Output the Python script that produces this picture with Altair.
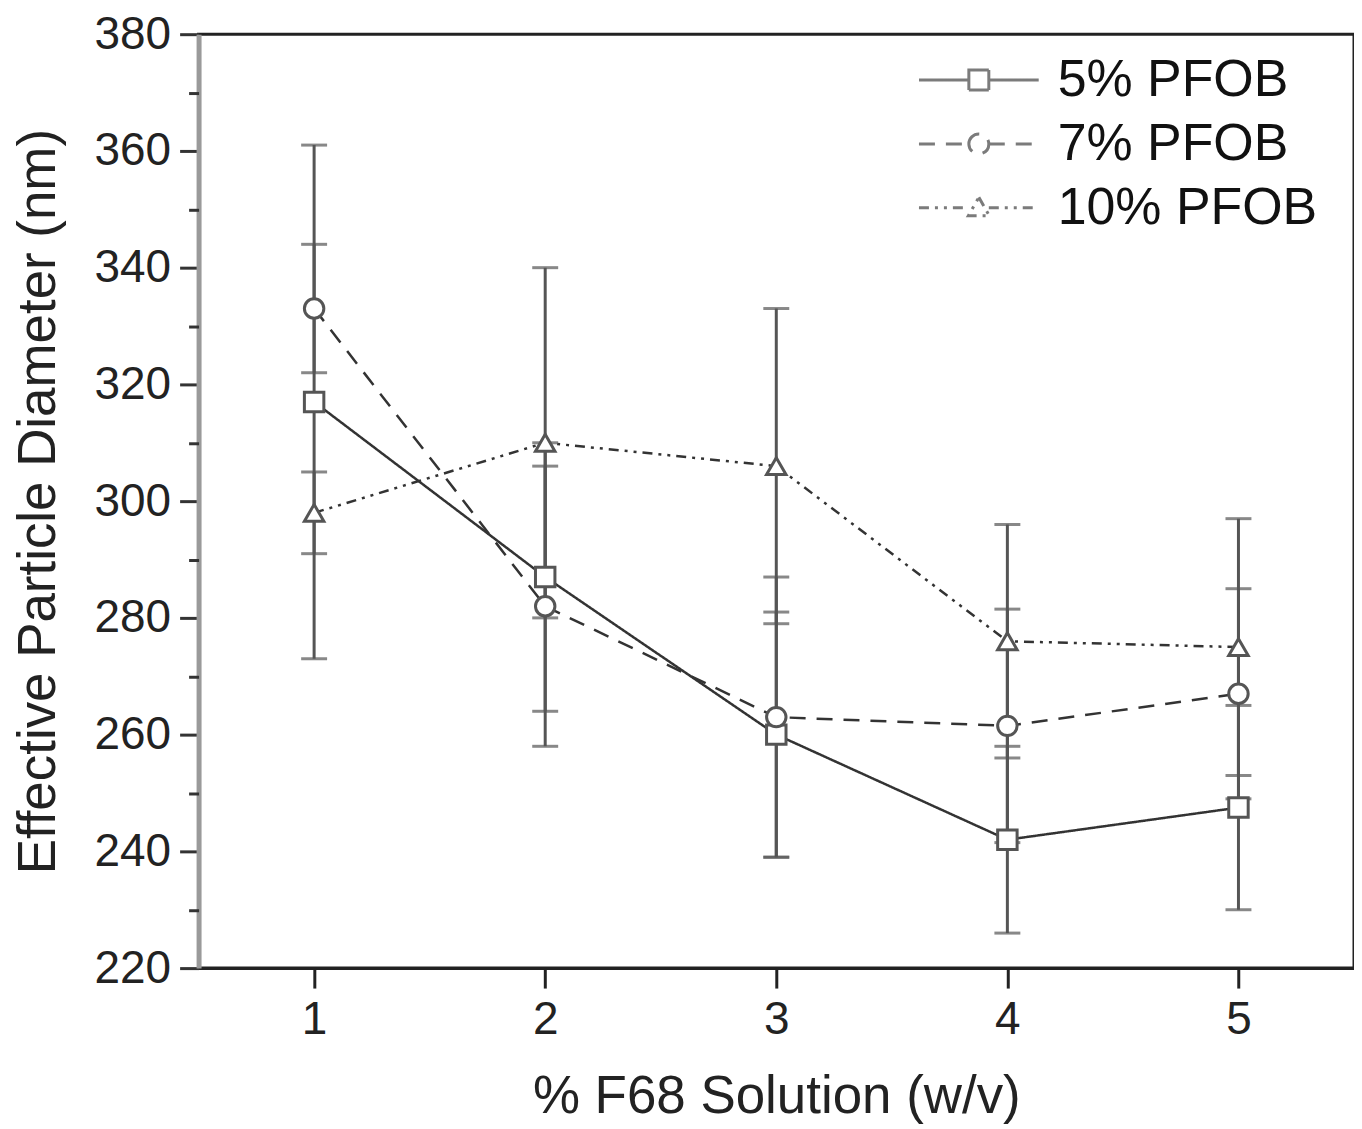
import altair as alt
import pandas as pd

# ---- data ----
f68 = [1, 2, 3, 4, 5]
series_names = ["5% PFOB", "7% PFOB", "10% PFOB"]
pfob5 = [317, 287, 260, 242, 247.5]
pfob5_err = [44, 23, 21, 16, 17.5]
pfob7 = [333, 282, 263, 261.5, 267]
pfob7_err = [11, 24, 24, 20, 18]
pfob10 = [298, 310, 306, 276, 275]
pfob10_err = [7, 30, 27, 20, 22]
markers = ["square", "circle", "triangle-up"]

y_major = [220, 240, 260, 280, 300, 320, 340, 360, 380]
y_minor = [230, 250, 270, 290, 310, 330, 350, 370]

rows = []
for name, vals, errs, mk in zip(series_names, [pfob5, pfob7, pfob10],
                                [pfob5_err, pfob7_err, pfob10_err], markers):
    for x, v, e in zip(f68, vals, errs):
        rows.append({"x": x, "series": name, "y": v, "lo": v - e, "hi": v + e, "marker": mk})
df = pd.DataFrame(rows)

FONT = "Liberation Sans"
INK = "#222222"
LINE = "#333333"
MARK = "#555555"

dashes = [[1, 0], [16, 11], [10, 6, 3, 6, 3, 6]]
legend_paths = [
    "M-6,0H-1M1,0H6M-1,-1H1V1H-1Z",
    "M-6,0H-1M1,0H6M-1,0A1,1,0,1,1,1,0A1,1,0,1,1,-1,0Z",
    "M-6,0H-1M1,0H6M0,-1.05L1.05,0.8L-1.05,0.8Z",
]

xscale = alt.Scale(domain=[0.5, 5.5], nice=False, zero=False)
yscale = alt.Scale(domain=[220, 380], nice=False, zero=False)

x_axis = alt.Axis(values=f68, title="% F68 Solution (w/v)", grid=False,
                  tickSize=20, tickWidth=3, tickColor=INK,
                  domainColor=INK, domainWidth=3,
                  labelFont=FONT, labelFontSize=46, labelColor=INK, labelPadding=10,
                  titleFont=FONT, titleFontSize=53, titleFontWeight="normal",
                  titleColor=INK, titlePadding=28, format="d")

y_axis_major = alt.Axis(values=y_major, orient="left", title="Effective Particle Diameter (nm)",
                        grid=False, tickSize=19, tickWidth=3, tickColor="#333333",
                        domainColor="#9a9a9a", domainWidth=5,
                        labelFont=FONT, labelFontSize=46, labelColor=INK, labelPadding=9,
                        titleFont=FONT, titleFontSize=53, titleFontWeight="normal",
                        titleColor=INK, titlePadding=29, format="d")

y_axis_minor = alt.Axis(values=y_minor, orient="left", title=None, grid=False,
                        tickSize=10, tickWidth=3, tickColor="#333333",
                        domain=False, labels=False)

legend_def = alt.Legend(title=None, orient="none", legendX=756, legendY=20,
                        labelFont=FONT, labelFontSize=52, labelColor="#111111",
                        labelOffset=53, labelLimit=500, symbolSize=400, symbolStrokeWidth=3,
                        symbolStrokeColor="#444444", rowPadding=12, padding=0,
                        labelBaseline="middle")

dash_enc = alt.StrokeDash("series:N",
                          scale=alt.Scale(domain=series_names, range=dashes),
                          legend=legend_def)

base = alt.Chart(df)

lines = base.mark_line(color=LINE, strokeWidth=2.5).encode(
    x=alt.X("x:Q", scale=xscale, axis=x_axis),
    y=alt.Y("y:Q", scale=yscale, axis=y_axis_major),
    strokeDash=dash_enc,
)

bars = base.mark_rule(color=MARK, strokeWidth=3).encode(
    x=alt.X("x:Q", scale=xscale, axis=x_axis),
    y=alt.Y("lo:Q", scale=yscale, axis=y_axis_minor),
    y2="hi:Q",
)

caps_lo = base.mark_tick(color=MARK, orient="horizontal", size=26, thickness=3).encode(
    x=alt.X("x:Q", scale=xscale, axis=x_axis),
    y=alt.Y("lo:Q", scale=yscale, axis=None),
)
caps_hi = base.mark_tick(color=MARK, orient="horizontal", size=26, thickness=3).encode(
    x=alt.X("x:Q", scale=xscale, axis=x_axis),
    y=alt.Y("hi:Q", scale=yscale, axis=None),
)

points = base.mark_point(filled=True, fill="white", stroke=MARK, strokeWidth=3,
                         size=380, opacity=1).encode(
    x=alt.X("x:Q", scale=xscale, axis=x_axis),
    y=alt.Y("y:Q", scale=yscale, axis=None),
    shape=alt.Shape("marker:N", scale=None),
)

legend_layer = base.mark_point(filled=False, color="#444444", strokeWidth=3,
                               clip=True, size=400).encode(
    x=alt.value(-2000),
    y=alt.value(-2000),
    shape=alt.Shape("series:N",
                    scale=alt.Scale(domain=series_names, range=legend_paths),
                    legend=legend_def),
    strokeDash=dash_enc,
)

chart = alt.layer(lines, bars, caps_lo, caps_hi, points, legend_layer).resolve_axis(
    y="independent"
).properties(
    width=1158, height=936,
    autosize=alt.AutoSizeParams(type="none"),
    padding={"left": 191, "top": 25, "right": 0, "bottom": 158},
    background="white",
).configure_view(
    stroke=INK, strokeWidth=3
)

chart.save("out.html", embed_options={"renderer": "svg", "actions": False})
